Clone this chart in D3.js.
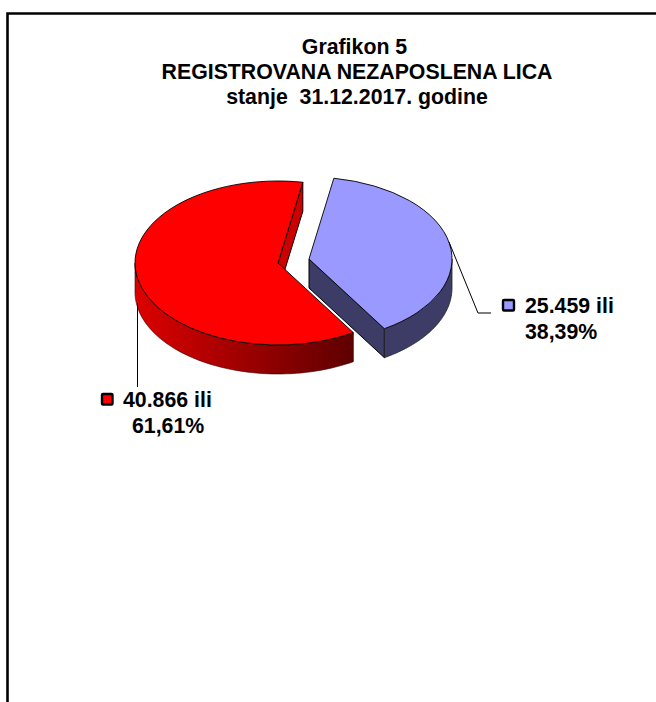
<!DOCTYPE html>
<html><head><meta charset="utf-8">
<style>html,body{margin:0;padding:0;background:#fff}svg{display:block}text{font-family:"Liberation Sans",Arial,sans-serif;font-weight:bold;fill:#000}</style>
<script src="https://cdn.jsdelivr.net/npm/d3@7"></script>
</head><body><svg id="c" width="656" height="702"></svg>
<script>
const values = [25459, 40866];
const valueLabels = [["25.459 ili", "38,39%"], ["40.866 ili", "61,61%"]];
const titleLines = ["Grafikon 5", "REGISTROVANA NEZAPOSLENA LICA", "stanje  31.12.2017. godine"];
const colors = ["#9999ff", "#ff0000"];

const svg = d3.select("#c");
const rad = d => d * Math.PI / 180;
const rx = 143, ry = 82, depth = 29;
const centers = [[309, 259], [278, 263]];

// frame: top and left only
svg.append("path").attr("d", "M7.5,702V13.5H656").attr("fill", "none").attr("stroke", "#000").attr("stroke-width", 2.6);

// title
const titleX = [354.5, 357, 357];
svg.append("g").selectAll("text").data(titleLines).join("text")
  .attr("x", (d, i) => titleX[i]).attr("y", (d, i) => 54 + i * 25).attr("text-anchor", "middle")
  .style("font-size", "21.3px").style("white-space", "pre").text(d => d);

// gradient for the red outer wall
const g = svg.append("defs").append("linearGradient").attr("id", "redWall").attr("gradientUnits", "userSpaceOnUse")
  .attr("x1", 135).attr("x2", 354).attr("y1", 0).attr("y2", 0);
g.append("stop").attr("offset", 0).attr("stop-color", "#dd0000");
g.append("stop").attr("offset", 1).attr("stop-color", "#5e0000");

const pie = d3.pie().value(d => d).sort(null).startAngle(rad(10)).endAngle(rad(370));
const arcs = pie(values);
const pt = (c, a) => [c[0] + rx * Math.sin(a), c[1] - ry * Math.cos(a)];

function outerWall(c, a0, a1) {
  const s = d3.scaleLinear().domain([0, 1]).range([a0, a1]);
  const top = d3.range(61).map(i => pt(c, s(i / 60)));
  const bottom = top.map(p => [p[0], p[1] + depth]).reverse();
  return d3.line()(top.concat(bottom)) + "Z";
}
function flatWall(c, a) {
  const p = pt(c, a);
  return d3.line()([c, p, [p[0], p[1] + depth], [c[0], c[1] + depth]]) + "Z";
}
const arcGen = d3.arc().innerRadius(0).outerRadius(rx);

arcs.forEach((d, i) => {
  const c = centers[i];
  const sl = svg.append("g");
  if (i === 0) {
    sl.append("path").attr("d", flatWall(c, d.endAngle)).attr("fill", "#3c3c66").attr("stroke", "#000").attr("stroke-width", 1);
    sl.append("path").attr("d", outerWall(c, rad(90), d.endAngle)).attr("fill", "#3c3c66").attr("stroke", "#222").attr("stroke-width", 0.8);
  } else {
    sl.append("path").attr("d", flatWall(c, d.endAngle)).attr("fill", "#cc0000").attr("stroke", "#000").attr("stroke-width", 1);
    sl.append("path").attr("d", outerWall(c, d.startAngle, rad(270))).attr("fill", "url(#redWall)").attr("stroke", "#300").attr("stroke-width", 0.6);
  }
  sl.append("path")
    .attr("transform", `translate(${c[0]},${c[1]}) scale(1,${ry / rx})`)
    .attr("d", arcGen(d)).attr("fill", colors[i])
    .attr("stroke", "#000").attr("stroke-width", 0.9).attr("vector-effect", "non-scaling-stroke");
});

// leaders
svg.append("path").attr("d", "M449,242L478,313H491").attr("fill", "none").attr("stroke", "#000").attr("stroke-width", 1);
svg.append("path").attr("d", "M137.5,303V387").attr("fill", "none").attr("stroke", "#000").attr("stroke-width", 1);

// labels
const labelPos = [{sx: 503, sy: 300, w: 11, tx: [525, 525], y: 313}, {sx: 102, sy: 394, w: 10.5, tx: [123, 132], y: 407}];
labelPos.forEach((l, i) => {
  svg.append("rect").attr("x", l.sx).attr("y", l.sy).attr("width", l.w).attr("height", 10.5).attr("rx", 1)
    .attr("fill", colors[i]).attr("stroke", "#000").attr("stroke-width", 2.4);
  valueLabels[i].forEach((t, k) => {
    svg.append("text").attr("x", l.tx[k]).attr("y", l.y + k * 25.5).style("font-size", "21.3px").text(t);
  });
});
</script></body></html>
